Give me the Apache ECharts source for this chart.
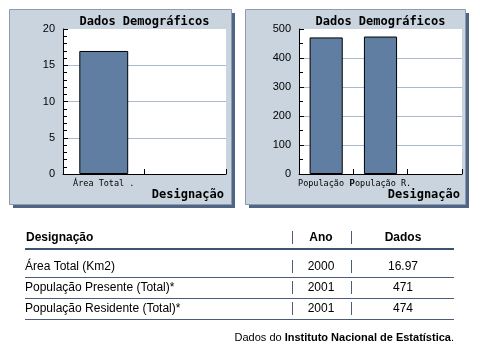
<!DOCTYPE html>
<html><head><meta charset="utf-8">
<script src="https://cdn.jsdelivr.net/npm/echarts@6/dist/echarts.min.js"></script>
<style>html,body{margin:0;padding:0;background:#fff;overflow:hidden}#c{width:480px;height:356px}</style>
</head><body><div id="c"></div>
<script>
// ---- data ----
const chartTitle = 'Dados Demográficos';
const axisName = 'Designação';
const areaCategories = ['Área Total .', ''];
const areaValues = [16.97, null];
const popCategories = ['População P', 'População R.', ''];
const popValues = [471, 474, null];
const areaAxis = { min: 0, max: 20, interval: 5, minorSplit: 5 };
const popAxis = { min: 0, max: 500, interval: 100, minorSplit: 2 };
const tableHeader = ['Designação', 'Ano', 'Dados'];
const tableNames = ['Área Total (Km2)', 'População Presente (Total)*', 'População Residente (Total)*'];
const tableYears = ['2000', '2001', '2001'];
const tableValues = ['16.97', '471', '474'];
const sourcePrefix = 'Dados do ';
const sourceName = 'Instituto Nacional de Estatística';

// ---- styling ----
const PANEL = '#c9d4df', SHADOW = '#4e6683', BAR = '#5f7ea1', GRIDLINE = '#a9bacd', LINE = '#3d5170';
const MONO = '"DejaVu Sans Mono", "Liberation Mono", monospace';
const SANS = '"Liberation Sans", Arial, sans-serif';

function xAx(i, data) {
  return {
    type: 'category', gridIndex: i, data: data, boundaryGap: true,
    axisLine: { show: true, lineStyle: { color: '#000', width: 1 } },
    axisTick: { show: true, inside: true, length: 5, lineStyle: { color: '#000' } },
    axisLabel: { interval: 0, fontFamily: MONO, fontSize: 8.5, color: '#000', margin: 5, hideOverlap: false },
    splitLine: { show: false }
  };
}
function yAx(i, a) {
  return {
    type: 'value', gridIndex: i, min: a.min, max: a.max, interval: a.interval,
    axisLine: { show: true, lineStyle: { color: '#000', width: 1 } },
    axisTick: { show: true, inside: true, length: 5, lineStyle: { color: '#000' } },
    minorTick: { show: true, splitNumber: a.minorSplit, length: 4, lineStyle: { color: '#000' } },
    splitLine: { show: true, showMinLine: false, showMaxLine: false, lineStyle: { color: GRIDLINE, width: 1 } },
    axisLabel: { fontFamily: SANS, fontSize: 11, color: '#000', margin: 8 }
  };
}

const g = [];
// panels
[[9, 9, 222, 195], [245, 9, 220, 195]].forEach(p => {
  g.push({ type: 'rect', z: -10, shape: { x: p[0] + 4, y: p[1] + 4, width: p[2], height: p[3] }, style: { fill: SHADOW } });
  g.push({ type: 'rect', z: -9, shape: { x: p[0] + 0.5, y: p[1] + 0.5, width: p[2], height: p[3] }, style: { fill: PANEL, stroke: '#8d9bb0', lineWidth: 1 } });
});
// chart titles and axis names
[[144.5, 224], [380.5, 460]].forEach(c => {
  g.push({ type: 'text', z: 50, x: c[0], y: 22, style: { text: chartTitle, fontFamily: MONO, fontWeight: 'bold', fontSize: 12, fill: '#000', align: 'center', verticalAlign: 'middle' } });
  g.push({ type: 'text', z: 50, x: c[1], y: 195, style: { text: axisName, fontFamily: MONO, fontWeight: 'bold', fontSize: 12, fill: '#000', align: 'right', verticalAlign: 'middle' } });
});
// table
const colX = [26, 321, 403], sepX = [292.5, 351.5];
function tableRow(cells, y, bold) {
  cells.forEach((t, k) => {
    g.push({ type: 'text', z: 50, x: colX[k] - (k === 0 && !bold ? 1 : 0), y: y, style: { text: t, fontFamily: SANS, fontSize: 12, fontWeight: bold ? 'bold' : 'normal', fill: '#000', align: k === 0 ? 'left' : 'center', verticalAlign: 'middle' } });
  });
  sepX.forEach(x => g.push({ type: 'line', z: 50, shape: { x1: x, y1: y - 7, x2: x, y2: y + 6 }, style: { stroke: '#4a5e7c', lineWidth: 1 } }));
}
tableRow(tableHeader, 238, true);
g.push({ type: 'rect', z: 50, shape: { x: 25, y: 248, width: 429, height: 2 }, style: { fill: LINE } });
const rowY = [267, 288, 309], lineY = [277.5, 298.5, 319.5];
tableNames.forEach((n, i) => {
  tableRow([n, tableYears[i], tableValues[i]], rowY[i], false);
  g.push({ type: 'line', z: 50, shape: { x1: 25, y1: lineY[i], x2: 454, y2: lineY[i] }, style: { stroke: '#4a5e7c', lineWidth: 1 } });
});
g.push({ type: 'text', z: 50, x: 454, y: 338, style: {
  text: '{a|' + sourcePrefix + '}{b|' + sourceName + '}{a|.}', align: 'right', verticalAlign: 'middle',
  rich: { a: { fontFamily: SANS, fontSize: 11, fill: '#000', color: '#000' }, b: { fontFamily: SANS, fontSize: 11, fontWeight: 'bold', fill: '#000', color: '#000' } }
} });

const chart = echarts.init(document.getElementById('c'), null, { renderer: 'canvas' });
chart.setOption({
  animation: false,
  backgroundColor: '#fff',
  grid: [
    { left: 63, top: 29, width: 163, height: 145, show: true, backgroundColor: '#fff', borderWidth: 0 },
    { left: 299, top: 29, width: 163, height: 145, show: true, backgroundColor: '#fff', borderWidth: 0 }
  ],
  xAxis: [xAx(0, areaCategories), xAx(1, popCategories)],
  yAxis: [yAx(0, areaAxis), yAx(1, popAxis)],
  series: [
    { type: 'bar', xAxisIndex: 0, yAxisIndex: 0, data: areaValues, barWidth: '60%', itemStyle: { color: BAR, borderColor: '#000', borderWidth: 1 } },
    { type: 'bar', xAxisIndex: 1, yAxisIndex: 1, data: popValues, barWidth: '61%', itemStyle: { color: BAR, borderColor: '#000', borderWidth: 1 } }
  ],
  graphic: { elements: g }
});
</script></body></html>
